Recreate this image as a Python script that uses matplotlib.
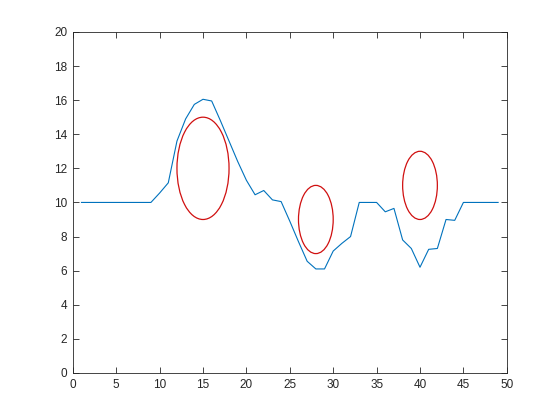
import numpy as np
import matplotlib
matplotlib.use('Agg')
import matplotlib.pyplot as plt
from matplotlib.patches import Ellipse

# datos de la senal
x = list(range(1, 50))
y = [10, 10, 10, 10, 10, 10, 10, 10, 10,
     10.55, 11.15, 13.6, 14.9, 15.75, 16.05, 15.95, 14.8, 13.6, 12.4, 11.3,
     10.45, 10.7, 10.15, 10.05, 8.9, 7.7, 6.55, 6.1, 6.1, 7.15,
     7.6, 8.0, 10.0, 10.0, 10.0, 9.45, 9.65, 7.8, 7.3, 6.2,
     7.25, 7.3, 9.0, 8.95, 10, 10, 10, 10, 10]

# circulos marcados
cx = [15, 28, 40]
cy = [12, 9, 11]
rx = [3, 2, 2]
ry = [3, 2, 2]

plt.rcParams['font.family'] = ['Liberation Sans', 'DejaVu Sans']

fig = plt.figure(figsize=(5.6, 4.2), dpi=100)
ax = fig.add_axes([0.13, 0.112, 0.775, 0.812])

ax.plot(x, y, color='#0072BD', linewidth=0.8)
for i in range(len(cx)):
    e = Ellipse((cx[i], cy[i]), 2 * rx[i], 2 * ry[i], fill=False,
                edgecolor='#d01010', linewidth=0.9)
    ax.add_patch(e)

ax.set_xlim(0, 50)
ax.set_ylim(0, 20)
ax.set_xticks(np.arange(0, 51, 5))
ax.set_yticks(np.arange(0, 21, 2))
ax.tick_params(direction='in', top=True, right=True, length=4, width=0.6,
               colors='#262626', labelsize=8.5, pad=4)
for s in ax.spines.values():
    s.set_color('#262626')
    s.set_linewidth(0.6)

fig.savefig('out.png', dpi=100)
